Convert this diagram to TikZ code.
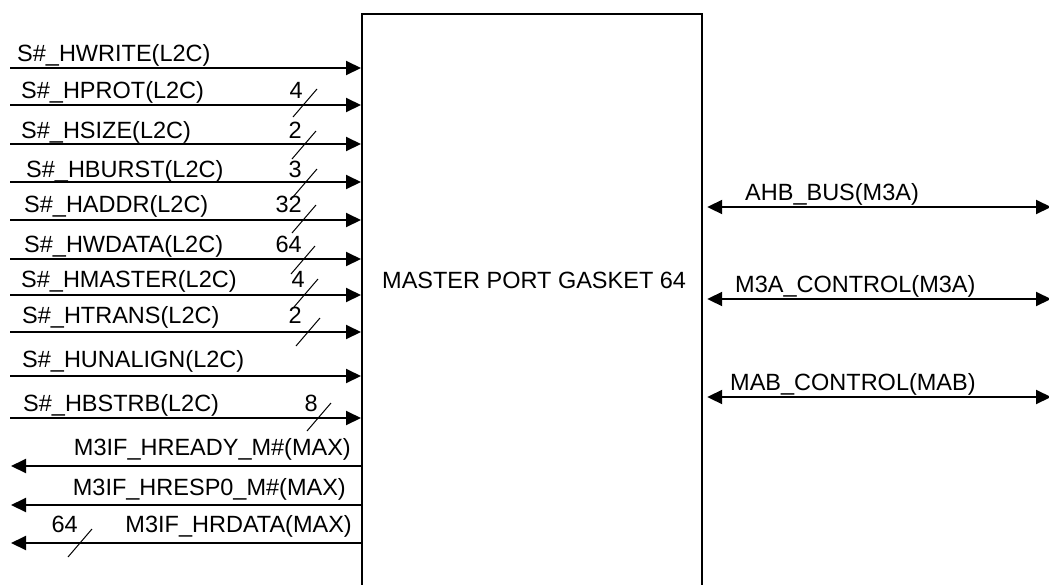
\documentclass[tikz,border=0pt]{standalone}
\usepackage{fontspec}
\setmainfont{Liberation Sans}
\usetikzlibrary{arrows.meta}
\begin{document}
\begin{tikzpicture}[x=1pt,y=-1pt,
  font=\fontsize{23.5}{28}\selectfont,
  sig/.style={line width=2pt,-{Triangle[length=15pt,width=14pt]}},
  bid/.style={line width=2pt,{Triangle[length=15pt,width=14pt]}-{Triangle[length=15pt,width=14pt]}},
  lbl/.style={anchor=base west,inner sep=0pt},
  rlbl/.style={anchor=base east,inner sep=0pt},
  slsh/.style={line width=1pt},
  busw/.style={anchor=base east,inner sep=0pt}]
\useasboundingbox (0,0) rectangle (1049,584);
\node (box) [draw,line width=2.2pt,minimum width=340pt,minimum height=640pt,anchor=north west,inner sep=0pt] at (361,13) {};
\node (title) [lbl] at (382,288) {MASTER PORT GASKET 64};
% inputs
\foreach \n/\y/\lx/\ly/\t in {
  i1/68/17/61/{S\#\_HWRITE(L2C)},
  i2/105/21/98/{S\#\_HPROT(L2C)},
  i3/144/21/138/{S\#\_HSIZE(L2C)},
  i4/182/26/177/{S\#\_HBURST(L2C)},
  i5/220/24/212/{S\#\_HADDR(L2C)},
  i6/259/24/252/{S\#\_HWDATA(L2C)},
  i7/295/21/287/{S\#\_HMASTER(L2C)},
  i8/332/22/323/{S\#\_HTRANS(L2C)},
  i9/376/22/367/{S\#\_HUNALIGN(L2C)},
  i10/418/23/411/{S\#\_HBSTRB(L2C)}}{
  \coordinate (\n) at (10,\y);
  \draw[sig] (\n) -- (\n -| box.west);
  \node (\n l) [lbl] at (\lx,\ly) {\t};
}
% outputs
\foreach \n/\y/\rx/\ly/\t in {
  o1/466/351/455/{M3IF\_HREADY\_M\#(MAX)},
  o2/505/346/495/{M3IF\_HRESP0\_M\#(MAX)},
  o3/543/352/532/{M3IF\_HRDATA(MAX)}}{
  \coordinate (\n) at (11,\y);
  \draw[sig] (\n -| box.west) -- (\n);
  \node (\n l) [rlbl] at (\rx,\ly) {\t};
}
% bus widths
\foreach \n/\cx/\cy/\nx/\ny/\w in {
  b2/305/103/303/98/4,
  b3/304/145/302/138/2,
  b4/305/183/302/177/3,
  b5/304/219/302/212/32,
  b6/303/260/302/252/64,
  b7/306/293/305/287/4,
  b8/308/332/302/323/2,
  b10/319/417/318/411/8,
  b13/80/543/78/532/64}{
  \coordinate (\n) at (\cx,\cy);
  \draw[slsh] ([shift={(-12,14)}]\n) -- ([shift={(12,-14)}]\n);
  \node (\n w) [busw] at (\nx,\ny) {\w};
}
% bidirectional
\foreach \n/\y/\lx/\ly/\t in {
  r1/207/745/200/{AHB\_BUS(M3A)},
  r2/299/735/292/{M3A\_CONTROL(M3A)},
  r3/397/730/390/{MAB\_CONTROL(MAB)}}{
  \coordinate (\n) at (1051,\y);
  \draw[bid] ([xshift=4pt]\n -| box.east) -- (\n);
  \node (\n l) [lbl] at (\lx,\ly) {\t};
}
\end{tikzpicture}
\end{document}
